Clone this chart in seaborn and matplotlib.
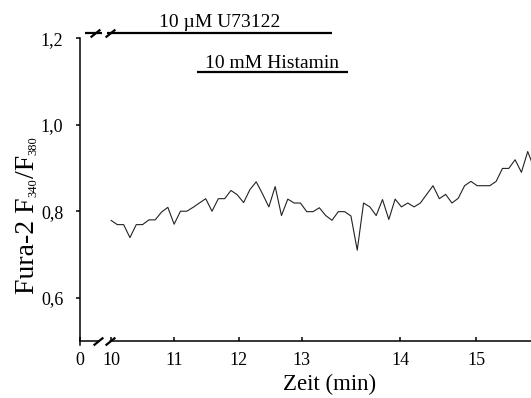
import numpy as np
import pandas as pd
import seaborn as sns
import matplotlib
matplotlib.use("Agg")
import matplotlib.pyplot as plt
import matplotlib.path as mpath
import matplotlib.transforms as mtrans

# ---------------- data ----------------
ratio = [0.779, 0.769, 0.769, 0.739, 0.769, 0.769, 0.780, 0.780, 0.798, 0.809,
         0.770, 0.800, 0.800, 0.809, 0.819, 0.829, 0.800, 0.829, 0.829, 0.848,
         0.838, 0.820, 0.850, 0.868, 0.840, 0.810, 0.857, 0.790, 0.828, 0.819,
         0.819, 0.799, 0.799, 0.808, 0.790, 0.779, 0.799, 0.799, 0.789, 0.710,
         0.819, 0.810, 0.790, 0.827, 0.781, 0.828, 0.810, 0.819, 0.810, 0.819,
         0.839, 0.859, 0.829, 0.839, 0.819, 0.830, 0.859, 0.869, 0.859, 0.859,
         0.859, 0.869, 0.899, 0.899, 0.919, 0.890, 0.938, 0.900]
time_min = 10.0 + 0.1 * np.arange(len(ratio))

x_tick_labels = ["0", "10", "11", "12", "13", "14", "15"]
y_ticks = [0.6, 0.8, 1.0, 1.2]
y_tick_labels = ["0,6", "0,8", "1,0", "1,2"]

treatments = ["10 µM U73122", "10 mM Histamin"]

df = pd.DataFrame({"Zeit": time_min, "Ratio": ratio})

# ---------------- layout helpers ----------------
PX_PER_MIN = 63.14
def px2t(px):
    return 10.0 + (px - 111.0) / PX_PER_MIN

x_tick_pos = [px2t(80), 10, 11, 12.02, 13.02, px2t(400), px2t(476)]
treat_spans = [(px2t(85), px2t(332)), (px2t(197), px2t(348))]
treat_y = [1.2127, 1.122]

sns.set_theme(style="ticks")
plt.rcParams["font.family"] = ["Liberation Serif", "DejaVu Serif"]

fig = plt.figure(figsize=(5.31, 3.98), dpi=100)
ax = fig.add_axes([80 / 531, 0.1324, 451 / 531, 0.9583 - 0.1324])

sns.lineplot(data=df, x="Zeit", y="Ratio", ax=ax, color="#222222",
             linewidth=0.8)

ax.set_xlim(px2t(80), px2t(531))
ax.set_ylim(0.49, 1.25)

for s in ["top", "right"]:
    ax.spines[s].set_visible(False)
ax.spines["bottom"].set_position(("data", 0.5))
ax.spines["left"].set_bounds(0.49, 1.2)
for s in ["bottom", "left"]:
    ax.spines[s].set_linewidth(1.1)
    ax.spines[s].set_color("black")

ax.set_xticks(x_tick_pos)
ax.set_xticklabels(x_tick_labels, fontsize=13)
ax.set_yticks(y_ticks)
ax.set_yticklabels(y_tick_labels, fontsize=13)
ax.tick_params(axis="x", direction="in", length=3, width=1.1, pad=8, colors="black")
ax.tick_params(axis="y", direction="out", length=3, width=1.1, pad=9, colors="black")

ax.set_xlabel("Zeit (min)", fontsize=16.5, color="black")
ax.xaxis.set_label_coords((330 - 80) / 451, -0.12)
ax.xaxis.label.set_va("center")
ax.set_ylabel("")

# y label built from pieces (large text, tiny subscripts)
ident = mtrans.IdentityTransform()
pieces = [("Fura-2 F", 20, 0.0), ("340", 9, 3.0), ("/F", 20, 0.0), ("380", 9, 3.0)]
renderer = fig.canvas.get_renderer()
objs = []
total = 0.0
for s, fs, dx in pieces:
    t = fig.text(0, 0, s, fontsize=fs, rotation=90, rotation_mode="anchor",
                 ha="left", va="baseline", transform=ident, color="black")
    L = t.get_window_extent(renderer).height
    objs.append((t, L, dx))
    total += L
x_base = 33.5
y_cur = (398 - 215) - total / 2
for t, L, dx in objs:
    t.set_position((x_base + dx, y_cur))
    y_cur += L

# axis break on x-axis
slash = mpath.Path([(-1, -0.8), (1, 0.8)], [mpath.Path.MOVETO, mpath.Path.LINETO])
gap = (px2t(101.5), px2t(106.5))
ax.plot(gap, [0.5, 0.5], color="white", lw=4, clip_on=False, zorder=5)
ax.plot([px2t(98), px2t(110)], [0.5, 0.5], linestyle="none", marker=slash,
        ms=7, mew=1.6, color="black", clip_on=False, zorder=6)

# treatment bars
text_x = [px2t(220), px2t(272)]
text_dy = [0.014, 0.0095]
for i, (lab, (x0, x1), yb) in enumerate(zip(treatments, treat_spans, treat_y)):
    if i == 0:
        ax.plot([x0, gap[0]], [yb, yb], color="black", lw=1.6, clip_on=False,
                solid_capstyle="butt")
        ax.plot([gap[1], x1], [yb, yb], color="black", lw=1.6, clip_on=False,
                solid_capstyle="butt")
        ax.plot([px2t(95), px2t(110)], [yb, yb], linestyle="none", marker=slash,
                ms=7, mew=1.6, color="black", clip_on=False, zorder=6)
    else:
        ax.plot([x0, x1], [yb, yb], color="black", lw=1.6, clip_on=False,
                solid_capstyle="butt")
    ax.text(text_x[i], yb + text_dy[i], lab, ha="center", va="baseline",
            fontsize=14, color="black")

fig.savefig("out.png", dpi=100)
